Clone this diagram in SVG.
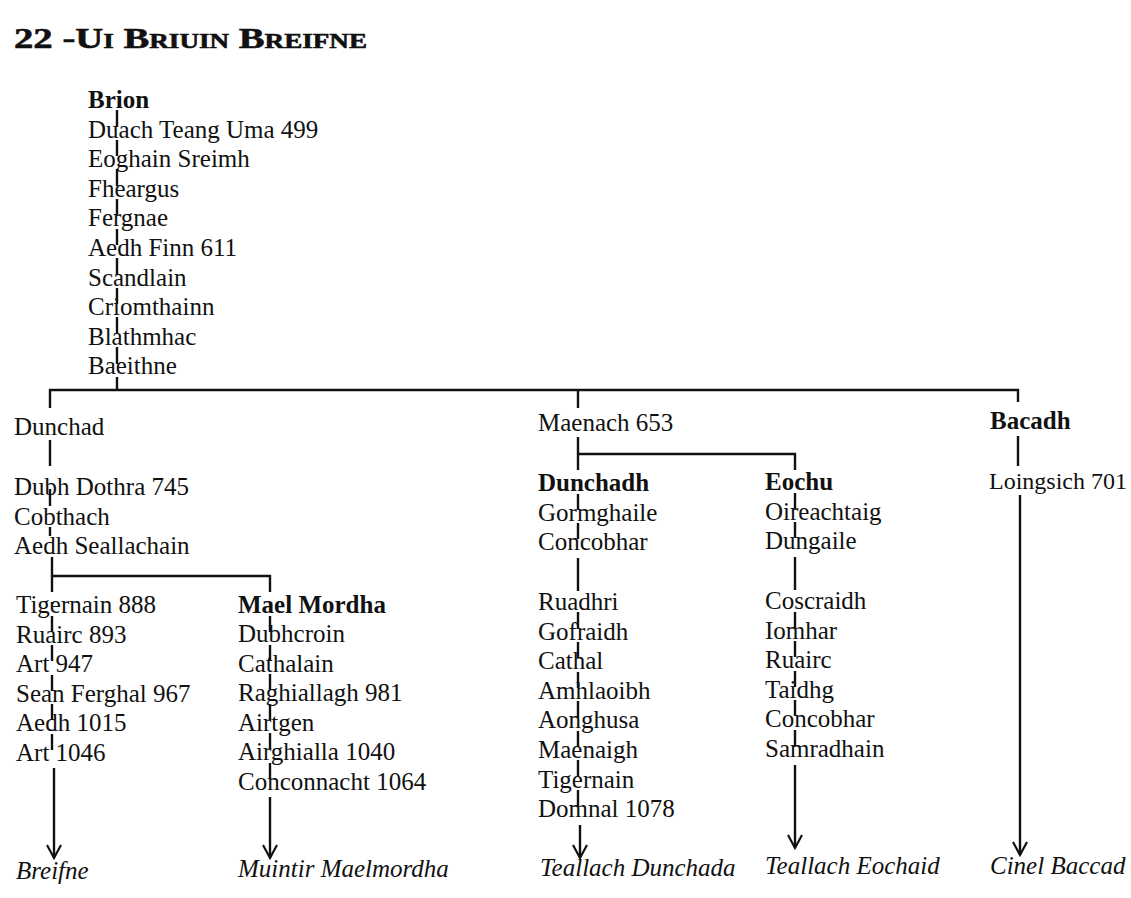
<svg xmlns="http://www.w3.org/2000/svg" width="1131" height="898" viewBox="0 0 1131 898">
<style>
text{font-family:"Liberation Serif","Times New Roman",serif;font-size:25px;fill:#111}
.b{font-weight:bold}
.i{font-style:italic}
.s{font-size:24px}
.title{font-weight:bold;font-size:30px;font-variant:small-caps;stroke:#111;stroke-width:0.6}
.c{stroke:#111;stroke-width:2.4;fill:none}
.a{stroke:#111;stroke-width:2.4;fill:none;marker-end:url(#arr)}
</style>
<defs>
<marker id="arr" markerUnits="userSpaceOnUse" markerWidth="18" markerHeight="18" refX="14" refY="8" orient="auto">
<path d="M1,1 L14,8 L1,15" fill="none" stroke="#111" stroke-width="2.2"/>
</marker>
</defs>
<rect width="1131" height="898" fill="#fff"/>
<g id="title"><text class="title" x="14" y="48" textLength="353" lengthAdjust="spacingAndGlyphs">22 -Ui Briuin Breifne</text></g>

<g id="connectors">
<path class="c" d="M117,110 V127 M117,140 V156 M117,169 V186 M117,199 V215 M117,229 V245 M117,258 V275 M117,288 V304 M117,317 V334 M117,347 V364 M117,377 V390"/>
<path class="c" d="M50,408 V390 H1018 V402 M578,390 V408"/>
<path class="c" d="M50,440 V466 M50,489 V506 M50,527 V536 M52,557 V592 M52,576 H270 V592"/>
<path class="c" d="M52,602 V604 M52,616 V632 M52,645 V661 M52,675 V691 M52,704 V720 M52,734 V750"/>
<path class="a" d="M54,768 V858"/>
<path class="c" d="M270,616 V632 M270,645 V661 M270,674 V690 M270,704 V720 M270,733 V749 M270,763 V779"/>
<path class="a" d="M270,797 V858"/>
<path class="c" d="M578,437 V470 M578,454 H795 V470 M578,494 V510 M578,523 V539 M578,558 V591"/>
<path class="c" d="M578,612 V629 M578,642 V658 M578,672 V688 M578,701 V718 M578,731 V747 M578,760 V777 M578,790 V806"/>
<path class="a" d="M580,825 V858"/>
<path class="c" d="M795,493 V509 M795,522 V538 M795,557 V590"/>
<path class="c" d="M795,612 V628 M795,641 V657 M795,671 V687 M795,700 V716 M795,730 V746"/>
<path class="a" d="M795,765 V848"/>
<path class="c" d="M1018,436 V466"/>
<path class="a" d="M1020,495 V855"/>
</g>

<g id="n-brion"><text class="b" x="88" y="108">Brion</text></g>
<g id="n-duach"><text x="88" y="138">Duach Teang Uma 499</text></g>
<g id="n-eoghain"><text x="88" y="167">Eoghain Sreimh</text></g>
<g id="n-fheargus"><text x="88" y="197">Fheargus</text></g>
<g id="n-fergnae"><text x="88" y="226">Fergnae</text></g>
<g id="n-aedhfinn"><text x="88" y="256">Aedh Finn 611</text></g>
<g id="n-scandlain"><text x="88" y="286">Scandlain</text></g>
<g id="n-criomthainn"><text x="88" y="315">Criomthainn</text></g>
<g id="n-blathmhac"><text x="88" y="345">Blathmhac</text></g>
<g id="n-baeithne"><text x="88" y="374">Baeithne</text></g>

<g id="n-dunchad"><text x="14" y="435">Dunchad</text></g>
<g id="n-dubhdothra"><text x="14" y="495">Dubh Dothra 745</text></g>
<g id="n-cobthach"><text x="14" y="525">Cobthach</text></g>
<g id="n-aedhseallachain"><text x="14" y="554">Aedh Seallachain</text></g>

<g id="n-tigernain888"><text x="16" y="613">Tigernain 888</text></g>
<g id="n-ruairc893"><text x="16" y="643">Ruairc 893</text></g>
<g id="n-art947"><text x="16" y="672">Art 947</text></g>
<g id="n-seanferghal"><text x="16" y="702">Sean Ferghal 967</text></g>
<g id="n-aedh1015"><text x="16" y="731">Aedh 1015</text></g>
<g id="n-art1046"><text x="16" y="761">Art 1046</text></g>
<g id="n-breifne"><text class="i" x="16" y="879">Breifne</text></g>

<g id="n-maelmordha"><text class="b" x="238" y="613">Mael Mordha</text></g>
<g id="n-dubhcroin"><text x="238" y="642">Dubhcroin</text></g>
<g id="n-cathalain"><text x="238" y="672">Cathalain</text></g>
<g id="n-raghiallagh"><text x="238" y="701">Raghiallagh 981</text></g>
<g id="n-airtgen"><text x="238" y="731">Airtgen</text></g>
<g id="n-airghialla"><text x="238" y="760">Airghialla 1040</text></g>
<g id="n-conconnacht"><text x="238" y="790">Conconnacht 1064</text></g>
<g id="n-muintir"><text class="i" x="238" y="877">Muintir Maelmordha</text></g>

<g id="n-maenach"><text x="538" y="431">Maenach 653</text></g>
<g id="n-dunchadh"><text class="b" x="538" y="491">Dunchadh</text></g>
<g id="n-gormghaile"><text x="538" y="521">Gormghaile</text></g>
<g id="n-concobhar1"><text x="538" y="550">Concobhar</text></g>
<g id="n-ruadhri"><text x="538" y="610">Ruadhri</text></g>
<g id="n-gofraidh"><text x="538" y="640">Gofraidh</text></g>
<g id="n-cathal"><text x="538" y="669">Cathal</text></g>
<g id="n-amhlaoibh"><text x="538" y="699">Amhlaoibh</text></g>
<g id="n-aonghusa"><text x="538" y="728">Aonghusa</text></g>
<g id="n-maenaigh"><text x="538" y="758">Maenaigh</text></g>
<g id="n-tigernain"><text x="538" y="788">Tigernain</text></g>
<g id="n-domnal"><text x="538" y="817">Domnal 1078</text></g>
<g id="n-teallachdunchada"><text class="i" x="540" y="876">Teallach Dunchada</text></g>

<g id="n-eochu"><text class="b" x="765" y="490">Eochu</text></g>
<g id="n-oireachtaig"><text x="765" y="520">Oireachtaig</text></g>
<g id="n-dungaile"><text x="765" y="549">Dungaile</text></g>
<g id="n-coscraidh"><text x="765" y="609">Coscraidh</text></g>
<g id="n-iomhar"><text x="765" y="639">Iomhar</text></g>
<g id="n-ruairc"><text x="765" y="668">Ruairc</text></g>
<g id="n-taidhg"><text x="765" y="698">Taidhg</text></g>
<g id="n-concobhar2"><text x="765" y="727">Concobhar</text></g>
<g id="n-samradhain"><text x="765" y="757">Samradhain</text></g>
<g id="n-teallacheochaid"><text class="i" x="765" y="874">Teallach Eochaid</text></g>

<g id="n-bacadh"><text class="b" x="990" y="429">Bacadh</text></g>
<g id="n-loingsich"><text class="s" x="989" y="489">Loingsich 701</text></g>
<g id="n-cinelbaccad"><text class="i" x="990" y="874">Cinel Baccad</text></g>
</svg>
